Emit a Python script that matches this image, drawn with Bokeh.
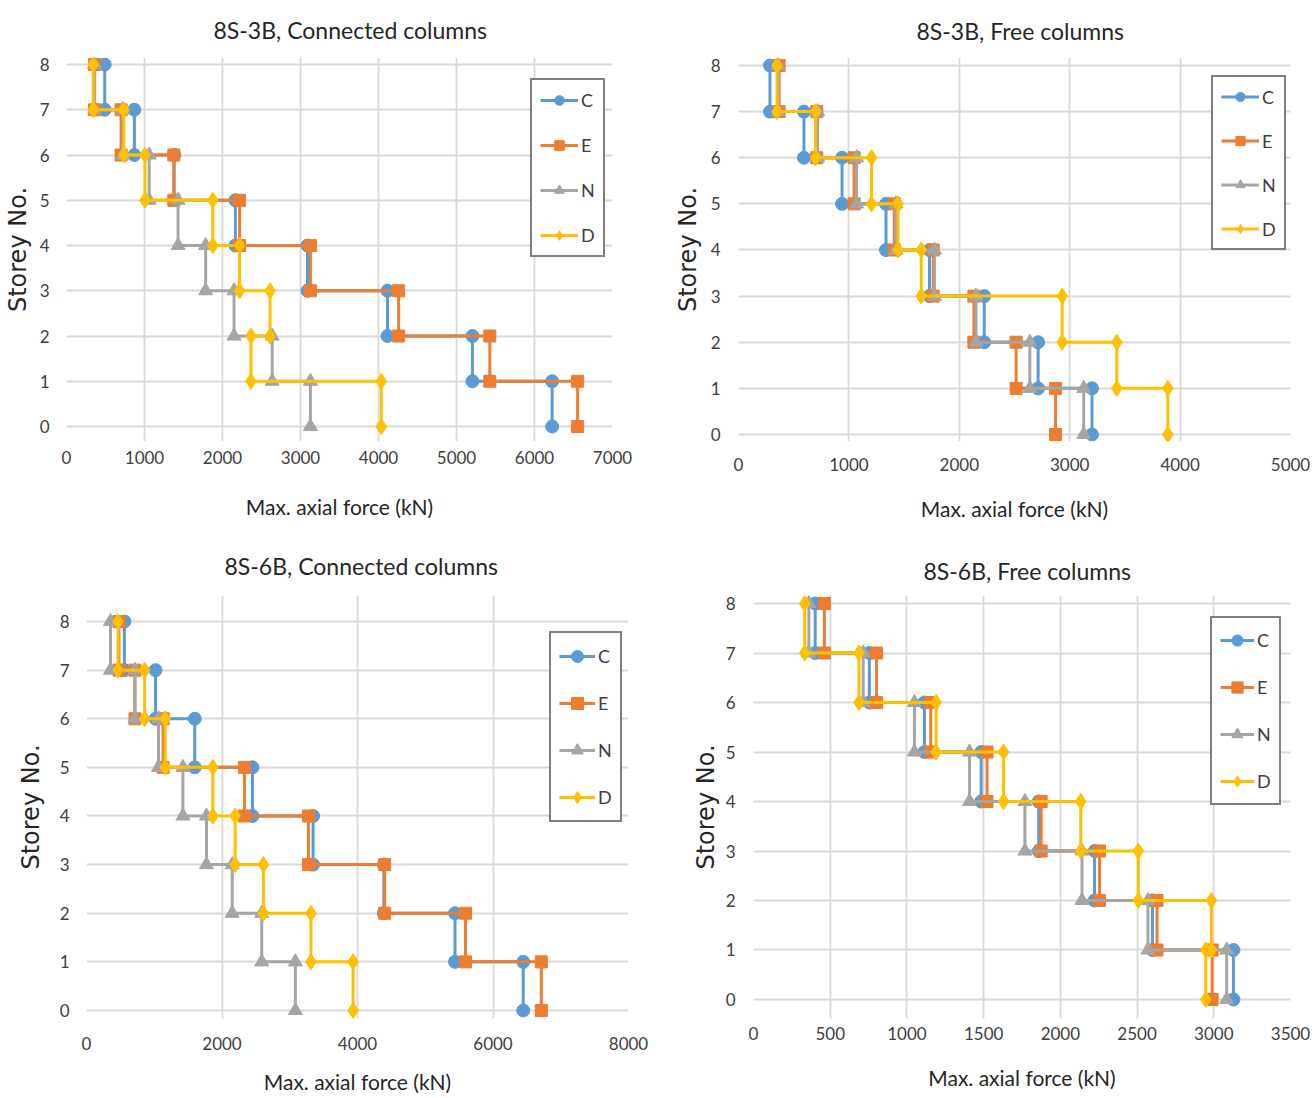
from bokeh.plotting import figure
from bokeh.models import Range1d, Legend, LegendItem, FixedTicker
from bokeh.layouts import row, column
from bokeh.embed import file_html
from bokeh.resources import INLINE

# Storey levels (vertical segment of each storey spans storey -> storey-1)
storeys = [8, 7, 6, 5, 4, 3, 2, 1]
series_names = ["C", "E", "N", "D"]

# 8S-3B, Connected columns (max axial force, kN, storey 8 -> 1)
c3b_C = [490, 870, 1380, 2165, 3090, 4116, 5204, 6226]
c3b_E = [360, 700, 1376, 2219, 3127, 4258, 5427, 6553]
c3b_N = [360, 720, 1060, 1430, 1784, 2148, 2637, 3127]
c3b_D = [343, 734, 1006, 1876, 2219, 2610, 2365, 4035]

# 8S-3B, Free columns
f3b_C = [285, 593, 938, 1336, 1730, 2226, 2714, 3202]
f3b_E = [368, 709, 1047, 1411, 1764, 2132, 2515, 2872]
f3b_N = [360, 717, 1070, 1426, 1776, 2151, 2639, 3127]
f3b_D = [349, 698, 1205, 1445, 1655, 2932, 3427, 3889]

# 8S-6B, Connected columns
c6b_C = [559, 1019, 1598, 2449, 3344, 4389, 5439, 6446]
c6b_E = [479, 715, 1131, 2331, 3276, 4401, 5594, 6713]
c6b_N = [354, 715, 1063, 1423, 1771, 2151, 2586, 3083]
c6b_D = [466, 858, 1162, 1865, 2194, 2611, 3313, 3935]

# 8S-6B, Free columns
f6b_C = [402, 755, 1114, 1484, 1859, 2223, 2600, 3128]
f6b_E = [462, 802, 1155, 1522, 1875, 2255, 2630, 2989]
f6b_N = [361, 715, 1049, 1408, 1769, 2141, 2571, 3084]
f6b_D = [334, 688, 1190, 1630, 2133, 2508, 2984, 2948]

x_ticks_c3b = [0, 1000, 2000, 3000, 4000, 5000, 6000, 7000]
x_ticks_f3b = [0, 1000, 2000, 3000, 4000, 5000]
x_ticks_c6b = [0, 2000, 4000, 6000, 8000]
x_ticks_f6b = [0, 500, 1000, 1500, 2000, 2500, 3000, 3500]
y_ticks = [0, 1, 2, 3, 4, 5, 6, 7, 8]

COLORS = {"C": "#5B9BD5", "E": "#ED7D31", "N": "#A5A5A5", "D": "#FFC000"}
MARKERS = {"C": ("circle", 13), "E": ("square", 12), "N": ("triangle", 14), "D": ("diamond", 16)}

FONT = "Lato"


def step_points(values):
    xs, ys = [], []
    for s, v in zip(storeys, values):
        xs += [v, v]
        ys += [s, s - 1]
    return xs, ys


def make_panel(title, data, xticks, yr, w, h, bl, br, bt, bb,
               tick_sy, lab_sy, tick_sx, lab_sx, title_standoff, title_offset,
               leg_loc, leg_gh, leg_sp, leg_gw):
    p = figure(width=w, height=h, x_range=Range1d(xticks[0], xticks[-1]),
               y_range=Range1d(yr[0], yr[1]), output_backend="svg",
               toolbar_location=None, min_border_left=bl, min_border_right=br,
               min_border_top=bt, min_border_bottom=bb)
    p.outline_line_color = None
    p.background_fill_color = "white"
    p.border_fill_color = "white"

    p.title.text = title
    p.title.align = "left"
    p.title.text_font = FONT
    p.title.text_font_size = "23px"
    p.title.text_font_style = "normal"
    p.title.text_color = "#262626"
    p.title.standoff = title_standoff
    p.title.offset = title_offset

    for ax in (p.xaxis[0], p.yaxis[0]):
        ax.axis_line_color = None
        ax.major_tick_line_color = None
        ax.minor_tick_line_color = None
        ax.major_tick_out = 0
        ax.major_tick_in = 0
        ax.minor_tick_out = 0
        ax.minor_tick_in = 0
        ax.major_label_text_font = FONT
        ax.major_label_text_font_size = "17px"
        ax.major_label_text_color = "#404040"
    p.xaxis.ticker = FixedTicker(ticks=xticks)
    p.yaxis.ticker = FixedTicker(ticks=y_ticks)
    p.xgrid.ticker = FixedTicker(ticks=xticks)
    p.ygrid.ticker = FixedTicker(ticks=y_ticks)
    p.xgrid.grid_line_color = "#D9D9D9"
    p.ygrid.grid_line_color = "#D9D9D9"
    p.xgrid.grid_line_width = 1.8
    p.ygrid.grid_line_width = 1.8

    p.xaxis.axis_label = "Max. axial force (kN)"
    p.xaxis.axis_label_text_font = FONT
    p.xaxis.axis_label_text_font_size = "21px"
    p.xaxis.axis_label_text_font_style = "normal"
    p.xaxis.axis_label_text_color = "#262626"
    p.xaxis.major_label_standoff = tick_sx
    p.xaxis.axis_label_standoff = lab_sx

    p.yaxis.axis_label = "Storey No."
    p.yaxis.axis_label_text_font = "DejaVu Sans"
    p.yaxis.axis_label_text_font_size = "24px"
    p.yaxis.axis_label_text_font_style = "normal"
    p.yaxis.axis_label_text_color = "#262626"
    p.yaxis.major_label_standoff = tick_sy
    p.yaxis.axis_label_standoff = lab_sy

    items = []
    for name in series_names:
        xs, ys = step_points(data[name])
        col = COLORS[name]
        mk, sz = MARKERS[name]
        ln = p.line(xs, ys, line_color=col, line_width=3)
        sc = p.scatter(xs, ys, marker=mk, size=sz, fill_color=col, line_color=col)
        items.append(LegendItem(label=name, renderers=[ln, sc]))

    leg = Legend(items=items, location=leg_loc, padding=8, margin=0,
                 spacing=leg_sp, glyph_height=leg_gh, label_height=leg_gh,
                 glyph_width=leg_gw, label_width=10, label_standoff=3,
                 border_line_color="black", border_line_width=2,
                 background_fill_color="white", background_fill_alpha=1,
                 label_text_font=FONT, label_text_font_size="18px",
                 label_text_color="#404040")
    p.add_layout(leg, "center")
    return p


# Row 1: frames 57..441 ; Row 2: frames 595..1018 (page px)
pA = make_panel("8S-3B, Connected columns",
                {"C": c3b_C, "E": c3b_E, "N": c3b_N, "D": c3b_D}, x_ticks_c3b,
                (-0.331, 8.155), 660, 530, 66, 48, 57, 89,
                17, 5, 9, 27, 27, 147, (464, 184), 24, 21, 38)
pB = make_panel("8S-3B, Free columns",
                {"C": f3b_C, "E": f3b_E, "N": f3b_N, "D": f3b_D}, x_ticks_f3b,
                (-0.152, 8.173), 650, 530, 78, 20, 57, 89,
                18, 6, 16, 22, 25, 178, (473, 191), 23, 21, 38)
pC = make_panel("8S-6B, Connected columns",
                {"C": c6b_C, "E": c6b_E, "N": c6b_N, "D": c6b_D}, x_ticks_c6b,
                (-0.165, 8.535), 660, 566, 86, 32, 65, 78,
                17, 12, 18, 16, 31, 138, (463, 196), 30, 17, 36)
pD = make_panel("8S-6B, Free columns",
                {"C": f6b_C, "E": f6b_E, "N": f6b_N, "D": f6b_D}, x_ticks_f6b,
                (-0.384, 8.162), 650, 566, 93, 20, 65, 78,
                18, 3, 8, 22, 21, 170, (457, 213), 28, 19, 34)

layout = column(row(pA, pB), row(pC, pD))
open("out.html", "w").write(file_html(layout, INLINE))
